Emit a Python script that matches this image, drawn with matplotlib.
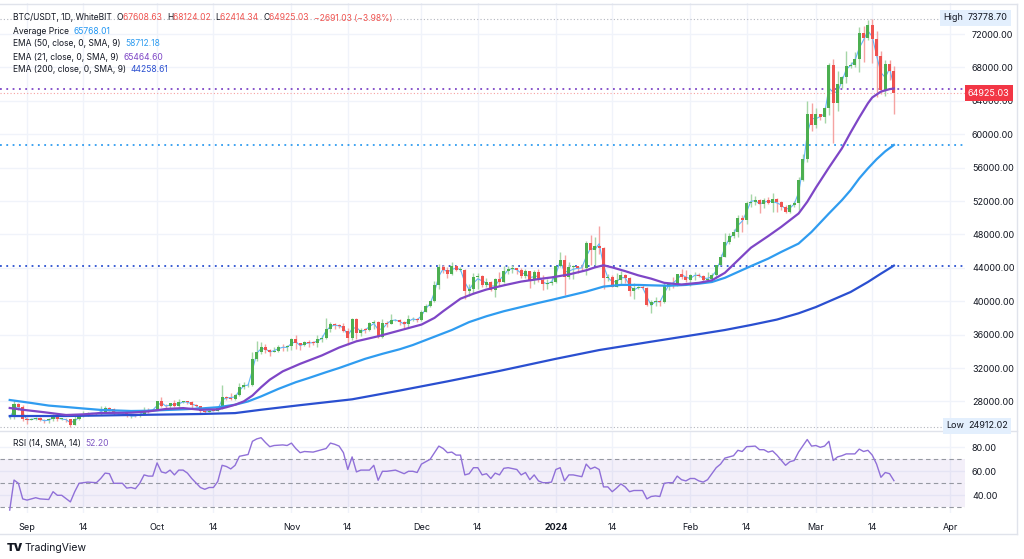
import matplotlib.pyplot as plt
from matplotlib.lines import Line2D
import numpy as np
import pandas as pd

W, H = 1024, 559

# daily candles, 2023-08-28 .. 2024-03-19
dates = pd.date_range('2023-08-28', '2024-03-19', freq='D')
opens = [26090, 26105, 27725, 27300, 25940, 25800, 25870, 26000, 25780, 25750, 25840, 26220, 25900, 25900, 25840,
         25160, 25840, 26220, 26530, 26600, 26570, 26530, 26760, 27210, 27130, 26570, 26580, 26580, 26250, 26300,
         26210, 26350, 27020, 26910, 26970, 27990, 27500, 27430, 27780, 27410, 27930, 27950, 27920, 27590, 27390,
         26870, 26760, 26860, 26850, 27150, 28500, 28400, 28320, 28710, 29680, 29910, 30000, 33070, 33920, 34500,
         34150, 33890, 34090, 34530, 34480, 34640, 35420, 34940, 34730, 35080, 35050, 35040, 35420, 35630, 36700,
         37300, 37130, 37060, 36490, 35550, 37880, 36160, 36590, 36580, 37380, 37450, 35760, 37420, 37290, 37720,
         37790, 37450, 37240, 37830, 37850, 37720, 38690, 39470, 39970, 41990, 44080, 43770, 43290, 44170, 43730,
         43790, 41240, 41450, 42890, 43020, 41940, 42260, 41360, 42660, 42270, 43650, 43880, 43990, 43720, 43010,
         43580, 42520, 43440, 42580, 42070, 42140, 42280, 44180, 44950, 42850, 44150, 44160, 43970, 43930, 46970,
         46110, 46630, 46340, 42780, 42850, 41730, 42510, 43140, 42740, 41260, 41620, 41670, 41560, 39500, 39850,
         40070, 39930, 41810, 42120, 42030, 43300, 42940, 42580, 43080, 43190, 43010, 42580, 42660, 43090, 44350,
         45290, 47130, 47750, 48290, 49960, 49700, 51800, 51930, 52130, 51660, 52120, 51780, 52260, 51840, 51300,
         50730, 51570, 51730, 54480, 57040, 62430, 61130, 62390, 62030, 63150, 68270, 63720, 66070, 66820, 68120,
         68310, 68950, 72120, 71470, 73070, 71400, 69400, 65300, 68390, 67608.63]
highs = [26250, 28140, 27760, 27575, 26125, 25980, 26120, 26100, 25840, 26030, 26440, 26290, 25945, 26000, 25880,
         26540, 26390, 26820, 26770, 26660, 26620, 27400, 27490, 27380, 27160, 26740, 26630, 26740, 26430, 26390,
         26820, 27300, 27230, 27090, 28070, 28580, 27660, 27830, 28120, 28290, 28030, 28100, 27990, 27730, 27480,
         26940, 27100, 26980, 27290, 30000, 28620, 28980, 28930, 30200, 30370, 30230, 33970, 35280, 35130, 34830,
         34250, 34480, 34750, 34860, 34720, 35580, 35980, 34940, 35250, 35380, 35290, 35900, 35980, 37970, 37520,
         37410, 37230, 37420, 36770, 37980, 37930, 36850, 36840, 37500, 37750, 37650, 37890, 37650, 38420, 37890,
         37840, 37590, 38390, 38150, 38020, 38970, 39690, 40000, 42420, 44490, 44300, 44050, 44700, 44370, 44040,
         43810, 42110, 43430, 43420, 43090, 42780, 42430, 42750, 43500, 44270, 44240, 44370, 44020, 43940, 43800,
         43600, 43680, 43800, 43130, 42600, 42900, 44180, 45880, 45500, 44730, 44340, 44200, 44480, 47250, 47900,
         47700, 48970, 46500, 43260, 43080, 43400, 43570, 43200, 42930, 42200, 41870, 41890, 41650, 40120, 40550,
         40130, 42200, 42200, 42840, 43300, 43840, 43740, 43290, 43490, 43380, 43120, 43490, 43400, 44370, 45600,
         48200, 48170, 48590, 50330, 50370, 52000, 52820, 52570, 52190, 52350, 52480, 52980, 52370, 52050, 51550,
         51680, 51960, 54900, 57580, 64000, 63680, 63100, 62430, 63230, 68500, 69000, 67600, 67000, 69990, 68600,
         69900, 72800, 73000, 73650, 73778.70, 72400, 70000, 68900, 68900, 68124.02]
lows = [25880, 25860, 27020, 25655, 25333, 25720, 25800, 25600, 25380, 25370, 25615, 25640, 25810, 25550, 24912.02,
        25130, 25770, 26130, 26220, 26470, 26400, 26380, 26670, 26800, 26370, 26500, 26520, 26130, 25990, 26090,
        26110, 26330, 26660, 26880, 26950, 27330, 27170, 27210, 27370, 27170, 27860, 27690, 27260, 27300, 26550,
        26560, 26700, 26810, 26800, 27110, 28110, 28160, 28170, 28600, 29480, 29670, 29880, 32850, 33700, 33750,
        33390, 33870, 33930, 34050, 34050, 34100, 34300, 34100, 34580, 34510, 34750, 34530, 35100, 35530, 36340,
        36720, 36750, 36340, 34800, 35360, 35500, 35880, 36210, 36380, 36720, 35630, 35620, 36870, 37250, 37580,
        37160, 36760, 36870, 37630, 37500, 37620, 38650, 39290, 39960, 41420, 43330, 42820, 43080, 43580, 43560,
        40220, 40680, 40880, 41420, 41660, 41690, 41250, 40530, 41820, 42220, 43300, 43400, 43310, 42770, 42740,
        41640, 42100, 42300, 41300, 41520, 41970, 42180, 44150, 40750, 42630, 42630, 43400, 43590, 43180, 44300,
        44300, 45600, 41500, 42440, 41720, 41720, 42050, 42190, 40670, 40280, 41420, 41500, 39430, 38550, 39480,
        39480, 39820, 41390, 41620, 41800, 42690, 42270, 41880, 42570, 42880, 42250, 42260, 42570, 42790, 44330,
        45250, 46800, 47550, 47700, 48300, 49250, 51300, 51550, 50620, 51180, 51700, 50660, 50630, 50920, 50520,
        50590, 51280, 50880, 54450, 56700, 60360, 60770, 61650, 61300, 62300, 59000, 62800, 65500, 66100, 67900,
        68100, 67400, 68600, 71300, 68500, 64500, 64800, 64550, 66550, 62414.34]
closes = [26105, 27725, 27300, 25940, 25800, 25870, 26000, 25780, 25750, 25840, 26220, 25900, 25900, 25840, 25160,
          25840, 26220, 26530, 26600, 26570, 26530, 26760, 27210, 27130, 26570, 26580, 26580, 26250, 26300, 26210,
          26350, 27020, 26910, 26970, 27990, 27500, 27430, 27780, 27410, 27930, 27950, 27920, 27590, 27390, 26870,
          26760, 26860, 26850, 27150, 28500, 28400, 28320, 28710, 29680, 29910, 30000, 33070, 33920, 34500, 34150,
          33890, 34090, 34530, 34480, 34640, 35420, 34940, 34730, 35080, 35050, 35040, 35420, 35630, 36700, 37300,
          37130, 37060, 36490, 35550, 37880, 36160, 36590, 36580, 37380, 37450, 35760, 37420, 37290, 37720, 37790,
          37450, 37240, 37830, 37850, 37720, 38690, 39470, 39970, 41990, 44080, 43770, 43290, 44170, 43730, 43790,
          41240, 41450, 42890, 43020, 41940, 42260, 41360, 42660, 42270, 43650, 43880, 43990, 43720, 43010, 43580,
          42520, 43440, 42580, 42070, 42140, 42280, 44180, 44950, 42850, 44150, 44160, 43970, 43930, 46970, 46110,
          46630, 46340, 42780, 42850, 41730, 42510, 43140, 42740, 41260, 41620, 41670, 41560, 39500, 39850, 40070,
          39930, 41810, 42120, 42030, 43300, 42940, 42580, 43080, 43190, 43010, 42580, 42660, 43090, 44350, 45290,
          47130, 47750, 48290, 49960, 49700, 51800, 51930, 52130, 51660, 52120, 51780, 52260, 51840, 51300, 50730,
          51570, 51730, 54480, 57040, 62430, 61130, 62390, 62030, 63150, 68270, 63720, 66070, 66820, 68120, 68310,
          68950, 72120, 71470, 73070, 71400, 69400, 65300, 68390, 67608.63, 64925.03]

# moving averages (candle index -> value)
ema21_idx = [0, 3, 8, 13, 17, 21, 28, 32, 36, 40, 44, 48, 50, 52, 54, 56, 58, 60, 63, 67, 72, 76, 80, 85, 90, 95,
             98, 100, 102, 104, 107, 110, 114, 118, 122, 125, 129, 133, 135, 137, 139, 142, 145, 148, 151, 155, 159,
             162, 165, 168, 171, 175, 178, 182, 184, 186, 189, 192, 194, 196, 198, 199, 201, 203, 204]
ema21_val = [27210, 27000, 26700, 26370, 26450, 26610, 26650, 26800, 27090, 27200, 27000, 27050, 27300, 27600, 28000,
             28700, 29700, 30600, 31600, 32500, 33500, 34450, 35200, 35800, 36500, 37200, 38000, 38800, 39550, 40300,
             40900, 41400, 41900, 42350, 42650, 42850, 43200, 43700, 44050, 44300, 44050, 43600, 43100, 42700, 42200,
             42000, 42200, 42500, 43400, 44900, 46400, 47800, 48900, 50500, 51900, 53600, 56000, 58300, 60200, 62000,
             63700, 64400, 65100, 65400, 65464.60]
ema50_idx = [0, 5, 9, 13, 17, 21, 28, 32, 36, 40, 44, 48, 52, 55, 58, 62, 66, 69, 73, 76, 82, 86, 90, 93, 96, 99,
             102, 106, 110, 114, 118, 122, 125, 129, 133, 137, 141, 145, 148, 152, 156, 159, 162, 165, 168, 171, 175,
             178, 182, 185, 189, 192, 194, 196, 198, 200, 202, 204]
ema50_val = [28170, 27810, 27500, 27330, 27150, 26980, 26850, 26880, 26970, 27050, 27150, 27300, 27600, 28000, 28600,
             29500, 30300, 30800, 31500, 32000, 33100, 33700, 34250, 34750, 35350, 35950, 36550, 37500, 38200, 38800,
             39300, 39800, 40150, 40650, 41150, 41750, 41950, 41950, 41900, 41850, 41950, 42100, 42300, 42800, 43500,
             44200, 45100, 45900, 46900, 48300, 50500, 52100, 53300, 54700, 55900, 57000, 57950, 58712.18]
ema200_idx = [0, 13, 28, 44, 52, 58, 67, 79, 90, 101, 113, 126, 136, 148, 159, 165, 171, 177, 182, 186, 190, 194,
              198, 201, 204]
ema200_val = [26250, 26250, 26370, 26490, 26600, 27000, 27550, 28250, 29300, 30400, 31650, 33100, 34150, 35150, 36050,
              36550, 37150, 37800, 38550, 39300, 40200, 41100, 42300, 43300, 44258.61]

rsi_idx = [0, 1, 2, 3, 4, 6, 7, 9, 10, 11, 12, 14, 15, 16, 18, 20, 21, 22, 23, 24, 26, 27, 28, 29, 30, 31, 32, 33,
           34, 35, 36, 37, 38, 39, 40, 41, 42, 44, 45, 46, 47, 48, 49, 50, 51, 52, 53, 55, 56, 57, 58, 59, 60, 61,
           63, 64, 65, 66, 67, 68, 70, 72, 73, 74, 75, 76, 77, 78, 79, 80, 81, 83, 84, 85, 86, 87, 89, 91, 92, 93,
           94, 95, 97, 99, 100, 101, 102, 103, 104, 105, 106, 107, 108, 109, 110, 111, 112, 113, 114, 115, 117, 118,
           119, 120, 121, 122, 123, 124, 125, 126, 127, 128, 129, 130, 132, 133, 134, 135, 136, 137, 138, 139, 140,
           141, 142, 143, 144, 146, 147, 148, 149, 150, 151, 152, 153, 154, 155, 156, 157, 158, 159, 160, 161, 162,
           163, 164, 165, 167, 168, 169, 170, 172, 173, 174, 175, 176, 177, 179, 180, 181, 182, 184, 185, 186, 187,
           188, 189, 190, 191, 192, 193, 195, 196, 197, 198, 199, 200, 201, 202, 203, 204]
rsi_val = [27.7, 52.7, 50, 37, 36, 38, 37, 36.5, 43, 40, 40, 34.5, 43, 50, 51, 50.5, 54, 58.5, 58, 50, 50, 46, 46.5,
           45.5, 50, 57, 56, 56, 67, 59.5, 58.5, 61, 57, 61, 61, 58.5, 54, 46.5, 45, 46.5, 46.5, 51.5, 65, 64, 62, 65,
           72.5, 74, 85, 87, 88, 84, 80.5, 81.5, 82, 81.5, 83.5, 79, 75.5, 76.5, 76, 78, 79, 83.5, 82.5, 81, 75.5,
           61.5, 72, 59.5, 61, 61, 65, 52.5, 60, 60, 61, 58, 60, 60, 59, 66, 70, 81, 79, 75.5, 76, 73.5, 73.5, 57, 58,
           63, 63, 57, 58, 54, 58.5, 57, 62.5, 63, 61.5, 57, 59, 53, 57, 52, 50.5, 50.5, 51, 61.5, 63, 52, 57, 57,
           55.5, 66, 62, 63.5, 61.5, 47, 47, 43, 46, 49.5, 47, 43, 44, 44, 37, 39, 39.5, 39, 50, 50.5, 50.5, 56, 53,
           52, 54, 54, 52, 51, 53, 58, 63, 66, 71, 73, 77.5, 76.5, 80.5, 81, 78, 78, 76, 77, 73.5, 65, 68, 69, 76,
           86.5, 81, 81.5, 80, 81, 85, 69, 72, 73, 74.5, 74.5, 78.5, 76.5, 77.5, 73.5, 66, 55, 59, 58, 52.2]

tick_dates = ['2023-09-01', '2023-09-14', '2023-10-01', '2023-10-14', '2023-11-01', '2023-11-14', '2023-12-01',
              '2023-12-14', '2024-01-01', '2024-01-14', '2024-02-01', '2024-02-14', '2024-03-01', '2024-03-14',
              '2024-04-01']
tick_labels = ['Sep', '14', 'Oct', '14', 'Nov', '14', 'Dec', '14', '2024', '14', 'Feb', '14', 'Mar', '14', 'Apr']

GREEN, RED = '#4caf50', '#ef5350'
C21, C50, C200 = '#7e46c6', '#2f9cf0', '#2a4fd0'
TXT, GRID, BORDER = '#131722', '#f0f3fa', '#e0e3eb'

plt.rcParams['font.family'] = ['Inter', 'DejaVu Sans']
plt.rcParams['font.size'] = 6.5

fig = plt.figure(figsize=(W / 100, H / 100), dpi=100)
ax = fig.add_axes([0, 1 - 430 / H, 965 / W, 427 / H])
ax_rsi = fig.add_axes([0, 1 - 513 / H, 965 / W, 81 / H], sharex=ax)

x = np.arange(len(dates))
o, h, l, c = (np.array(v, dtype=float) for v in (opens, highs, lows, closes))
up = c >= o

# grid
tick_x = [(pd.Timestamp(d) - dates[0]).days for d in tick_dates]
for a in (ax, ax_rsi):
    for s in a.spines.values():
        s.set_visible(False)
    a.grid(True, color=GRID, lw=1)
    a.set_axisbelow(True)

# candles
wick_col = np.where(up, '#a5d6a7', '#f5a3a2')
ax.vlines(x, l, h, colors=wick_col, lw=1, zorder=2)
ax.bar(x, np.maximum(np.abs(c - o), 70), bottom=np.minimum(o, c), width=0.72,
       color=np.where(up, GREEN, RED), lw=0, zorder=3)

# average price (ohlc4) and EMAs
ax.plot(x, (o + h + l + c) / 4, color='#64b5f6', lw=0.8, zorder=2.5)
ax.plot(ema200_idx, ema200_val, color=C200, lw=1.6, zorder=4)
ax.plot(ema50_idx, ema50_val, color=C50, lw=1.6, zorder=4)
ax.plot(ema21_idx, ema21_val, color=C21, lw=1.6, zorder=4)

# price lines
ax.axhline(closes[-1], color='#f7a0a0', ls=(0, (1, 2)), lw=0.8, zorder=1)
ax.axhline(ema21_val[-1], color=C21, ls=(0, (1, 2.5)), lw=1.3, zorder=1)
ax.axhline(ema50_val[-1], color=C50, ls=(0, (1, 2.5)), lw=1.3, zorder=1)
ax.axhline(ema200_val[-1], color=C200, ls=(0, (1, 2.5)), lw=1.3, zorder=1)
ax.axhline(max(highs), color='#b2b5be', ls=(0, (1, 2)), lw=0.8, zorder=1)
ax.axhline(min(lows), color='#b2b5be', ls=(0, (1, 2)), lw=0.8, zorder=1)

ax.set_xlim(-2.24, 220.4)
ax.set_ylim(24575, 75713)
ax.yaxis.tick_right()
yt = list(range(28000, 72001, 4000))
ax.set_yticks(yt)
ax.set_yticklabels([f'{v:.2f}' for v in yt])
ax.tick_params(axis='y', length=0, pad=5, colors=TXT, labelsize=6.5)
ax.tick_params(axis='x', length=0, labelbottom=False)

# RSI
ax_rsi.axhspan(30, 70, color='#7e57c2', alpha=0.09, lw=0)
for lv in (70, 50, 30):
    ax_rsi.axhline(lv, color='#9598a1', ls=(0, (4, 3)), lw=0.8)
ax_rsi.plot(rsi_idx, rsi_val, color='#9070d8', lw=1)
ax_rsi.set_ylim(25.25, 92.75)
ax_rsi.yaxis.tick_right()
ax_rsi.set_yticks([40, 60, 80])
ax_rsi.set_yticklabels(['40.00', '60.00', '80.00'])
ax_rsi.tick_params(axis='y', length=0, pad=5, colors=TXT, labelsize=6.5)
ax_rsi.set_xticks(tick_x)
ax_rsi.set_xticklabels(tick_labels)
ax_rsi.tick_params(axis='x', length=0, pad=7, colors=TXT, labelsize=6.5)
ax_rsi.get_xticklabels()[8].set_fontweight('bold')


def fx(px):
    return px / W


def fy(py):
    return 1 - py / H


# frame lines
for xs, ys in [([0, 1017], [534, 534]), ([1017, 1017], [4, 534]), ([0, 1017], [431, 431]), ([0, 1017], [4, 4])]:
    fig.add_artist(Line2D([fx(v) for v in xs], [fy(v) for v in ys], color=BORDER, lw=1))


def segments(px, py, parts, size=6.1):
    r = fig.canvas.get_renderer()
    for s, col in parts:
        t = fig.text(fx(px), fy(py), s, color=col, fontsize=size, va='center', ha='left')
        px += t.get_window_extent(renderer=r).width


segments(13, 18, [('BTC/USDT, 1D, WhiteBIT  ', TXT), ('O', TXT), ('67608.63  ', RED), ('H', TXT),
                  ('68124.02  ', RED), ('L', TXT), ('62414.34  ', RED), ('C', TXT), ('64925.03  ', RED),
                  ('\u22122691.03 (\u22123.98%)', RED)])
segments(13, 31, [('Average Price  ', TXT), ('65768.01', '#2196f3')])
segments(13, 44, [('EMA (50, close, 0, SMA, 9)  ', TXT), ('58712.18', C50)])
segments(13, 57, [('EMA (21, close, 0, SMA, 9)  ', TXT), ('65464.60', C21)])
segments(13, 70, [('EMA (200, close, 0, SMA, 9)  ', TXT), ('44258.61', C200)])
segments(13, 443, [('RSI (14, SMA, 14)  ', TXT), ('52.20', '#7e57c2')])

# price axis badges
box = dict(boxstyle='square,pad=0.35', fc='#e3effd', ec='none')
fig.text(fx(943), fy(18), 'High', color=TXT, va='center', bbox=box)
fig.text(fx(968), fy(18), '73778.70', color=TXT, va='center', bbox=box)
fig.text(fx(946), fy(426), 'Low', color=TXT, va='center', bbox=box)
fig.text(fx(968), fy(426), '24912.02', color=TXT, va='center', bbox=box)
fig.text(fx(968), fy(93), '64925.03', color='white', va='center',
         bbox=dict(boxstyle='square,pad=0.35', fc='#f23645', ec='none'), zorder=10)

# logo
fig.text(fx(7), fy(548), 'TV', color=TXT, fontsize=8, fontweight='black', va='center')
fig.text(fx(25), fy(548), 'TradingView', color=TXT, fontsize=7.5, va='center')

fig.savefig('out.png', dpi=100, facecolor='white')
